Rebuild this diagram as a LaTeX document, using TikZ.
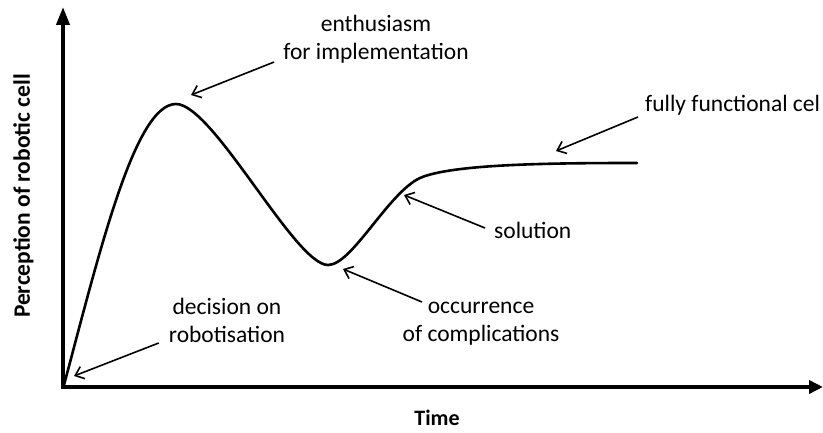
\documentclass[tikz,border=0pt]{standalone}
\usepackage{fontspec}
\setmainfont{Carlito}
\usetikzlibrary{arrows.meta}

\begin{document}
\begin{tikzpicture}[x=1pt,y=-1pt,
  axis/.style={line width=4pt, {Triangle[length=18pt,width=13pt]}-{Triangle[length=14pt,width=13pt]}},
  curve/.style={line width=2.6pt, line cap=round},
  pointer/.style={line width=1.6pt, -{Straight Barb[length=8pt,width=13pt,line width=1.6pt]}},
  label/.style={font=\fontsize{23.5}{28}\selectfont, inner sep=0pt, align=center},
  axislabel/.style={font=\fontsize{22}{28}\selectfont\bfseries, inner sep=0pt}]

\useasboundingbox (0,0) rectangle (823,433);

% axes
\coordinate (ytop) at (63,7);
\coordinate (origin) at (63,387);
\coordinate (xend) at (823,387);
\draw[axis, line join=miter] (ytop) -- (origin) -- (xend);

% perception curve
\draw[curve] (64,385)
  .. controls (100,250) and (135,104) .. (176,104)
  .. controls (213,104) and (295,265) .. (328,265)
  .. controls (352,265) and (388,193) .. (420,178)
  .. controls (452,164) and (550,163) .. (637,163);

% points marked on the curve
\coordinate (p-dec) at (74,376);
\coordinate (p-ent) at (191,95);
\coordinate (p-occ) at (343,269);
\coordinate (p-sol) at (404,195);
\coordinate (p-ful) at (556,151);

% labels (base anchor = baseline of the last line)
\node[label, anchor=base] (ent) at (376,60) {enthusiasm\\for implementation};
\node[label, anchor=base west] (ful) at (645,112) {fully functional cel};
\node[label, anchor=base west] (sol) at (494,239) {solution};
\node[label, anchor=base] (occ) at (481,341) {occurrence\\of complications};
\node[label, anchor=base] (dec) at (227,342) {decision on\\robotisation};
\node[axislabel, anchor=base] (time) at (437,425) {Time};
\node[axislabel, anchor=base, rotate=90, font=\fontsize{23.5}{28}\selectfont\bfseries] (perc) at (30,196) {Perception of robotic cell};

% pointers from labels to the curve
\draw[pointer] ([shift={(-10,1)}]dec.base west) -- (p-dec);
\draw[pointer] ([shift={(-9,2)}]ent.base west) -- (p-ent);
\draw[pointer] ([shift={(-7,5)}]ful.base west) -- (p-ful);
\draw[pointer] ([shift={(-9,-11)}]sol.base west) -- (p-sol);
\draw[pointer] ([shift={(-59,-39)}]occ.base) -- (p-occ);

\end{tikzpicture}
\end{document}
